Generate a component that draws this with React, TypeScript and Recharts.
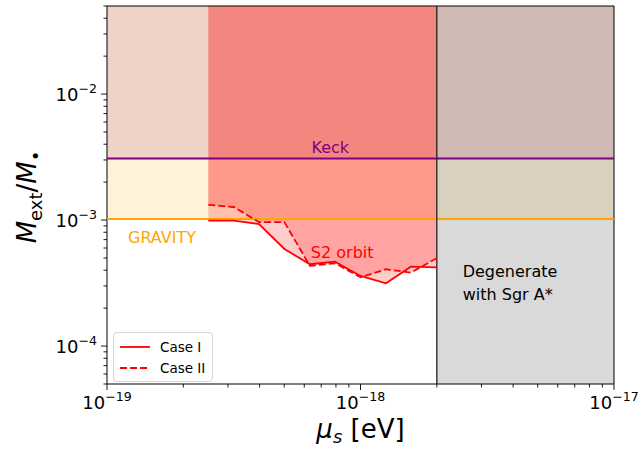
import React from 'react';
import {
  ComposedChart,
  Area,
  Line,
  XAxis,
  YAxis,
  ReferenceArea,
  ReferenceLine,
  ReferenceDot,
  Legend,
} from 'recharts';

// scalar mass mu_s [eV] sampled along the S2 orbit constraint
const massEv = [2.51e-19, 3.16e-19, 3.98e-19, 5.01e-19, 6.31e-19, 7.94e-19, 1.0e-18, 1.26e-18, 1.58e-18, 2.0e-18];
const caseI = [0.99e-3, 0.99e-3, 0.93e-3, 0.59e-3, 0.446e-3, 0.468e-3, 0.36e-3, 0.315e-3, 0.427e-3, 0.422e-3];
const caseII = [1.32e-3, 1.27e-3, 0.964e-3, 0.964e-3, 0.433e-3, 0.454e-3, 0.351e-3, 0.407e-3, 0.383e-3, 0.498e-3];

const keckLimit = 3.08e-3;
const gravityLimit = 1.02e-3;
const degenerateFrom = 2e-18;

const xDomain = [1e-19, 1e-17];
const yDomain = [5e-5, 5e-2];

const xTicks = [
  1e-19, 2e-19, 3e-19, 4e-19, 5e-19, 6e-19, 7e-19, 8e-19, 9e-19,
  1e-18, 2e-18, 3e-18, 4e-18, 5e-18, 6e-18, 7e-18, 8e-18, 9e-18, 1e-17,
];
const yTicks = [
  5e-5, 6e-5, 7e-5, 8e-5, 9e-5,
  1e-4, 2e-4, 3e-4, 4e-4, 5e-4, 6e-4, 7e-4, 8e-4, 9e-4,
  1e-3, 2e-3, 3e-3, 4e-3, 5e-3, 6e-3, 7e-3, 8e-3, 9e-3,
  1e-2, 2e-2, 3e-2, 4e-2, 5e-2,
];

const FONT = '"DejaVu Sans", sans-serif';

const data = massEv.map((m, i) => ({
  m,
  caseI: caseI[i],
  caseII: caseII[i],
  bandI: [caseI[i], yDomain[1]],
  bandII: [caseII[i], yDomain[1]],
}));

const decade = (v: number) => {
  const l = Math.log10(v);
  return Math.abs(l - Math.round(l)) < 1e-6 ? Math.round(l) : null;
};

const XTick = (props: any) => {
  const { x, y, payload } = props;
  const e = decade(payload.value);
  return (
    <g>
      <line x1={x} x2={x} y1={y} y2={y + (e !== null ? 6 : 3.5)} stroke="#000" strokeWidth={0.9} />
      {e !== null && (
        <text x={x} y={y + 25} textAnchor="middle" fontSize={18} fontFamily={FONT} fill="#000">
          10<tspan dy={-8} fontSize={12.6}>{'\u2212' + Math.abs(e)}</tspan>
        </text>
      )}
    </g>
  );
};

const YTick = (props: any) => {
  const { x, y, payload } = props;
  const e = decade(payload.value);
  return (
    <g>
      <line x1={x} x2={x - (e !== null ? 6 : 3.5)} y1={y} y2={y} stroke="#000" strokeWidth={0.9} />
      {e !== null && (
        <text x={x - 10} y={y + 7} textAnchor="end" fontSize={18} fontFamily={FONT} fill="#000">
          10<tspan dy={-8} fontSize={12.6}>{'\u2212' + Math.abs(e)}</tspan>
        </text>
      )}
    </g>
  );
};

const textAt = (lines: string[], color: string, anchor = 'start') => (p: any) => (
  <text x={p.cx} y={p.cy} fill={color} fontSize={16} fontFamily={FONT} textAnchor={anchor}>
    {lines.map((t, i) => (
      <tspan key={i} x={p.cx} dy={i === 0 ? 0 : 23}>{t}</tspan>
    ))}
  </text>
);

const LegendBox = (props: any) => {
  const items = (props.payload || []).filter((e: any) => e.type !== 'none');
  return (
    <div
      style={{
        background: 'rgba(255,255,255,0.85)',
        border: '1px solid #d5d5d5',
        borderRadius: 4,
        padding: '3px 6px',
        fontFamily: FONT,
        fontSize: 13.5,
        width: 100,
        boxSizing: 'border-box',
        whiteSpace: 'nowrap',
      }}
    >
      {items.map((entry: any) => (
        <div key={entry.value} style={{ display: 'flex', alignItems: 'center', height: 21 }}>
          <svg width={30} height={10} style={{ marginRight: 10, flexShrink: 0 }}>
            <line
              x1={0}
              x2={30}
              y1={5}
              y2={5}
              stroke={entry.color}
              strokeWidth={1.8}
              strokeDasharray={entry.payload?.strokeDasharray}
            />
          </svg>
          <span style={{ color: '#000' }}>{entry.value}</span>
        </div>
      ))}
    </div>
  );
};

export default function App() {
  return (
    <div style={{ position: 'absolute', left: 0, top: 0, background: '#fff' }}>
      <ComposedChart
        width={643}
        height={449}
        data={data}
        margin={{ top: 6, right: 29, bottom: 0, left: 0 }}
      >
        <XAxis
          dataKey="m"
          type="number"
          scale="log"
          domain={xDomain}
          ticks={xTicks}
          interval={0}
          allowDataOverflow
          tickSize={0}
          tickMargin={0}
          tickLine={false}
          axisLine={false}
          tick={<XTick />}
          height={65}
          label={{
            content: () => (
              <text x={360.5} y={438} textAnchor="middle" fontSize={26} fontFamily={FONT} fill="#000">
                <tspan fontStyle="italic">μ</tspan>
                <tspan fontStyle="italic" fontSize={18} dy={5}>s</tspan>
                <tspan dy={-5}> [eV]</tspan>
              </text>
            ),
          }}
        />
        <YAxis
          type="number"
          scale="log"
          domain={yDomain}
          ticks={yTicks}
          interval={0}
          allowDataOverflow
          tickSize={0}
          tickMargin={0}
          tickLine={false}
          axisLine={false}
          tick={<YTick />}
          width={107}
          label={{
            content: () => (
              <text
                transform="translate(36,197) rotate(-90)"
                textAnchor="middle"
                fontSize={26}
                fontFamily={FONT}
                fill="#000"
              >
                <tspan fontStyle="italic">M</tspan>
                <tspan fontSize={18} dy={6}>ext</tspan>
                <tspan dy={-6}>/</tspan>
                <tspan fontStyle="italic">M</tspan>
                <tspan fontSize={18} dy={6}>•</tspan>
              </text>
            ),
          }}
        />

        {/* excluded regions */}
        <ReferenceArea x1={xDomain[0]} x2={xDomain[1]} y1={gravityLimit} y2={yDomain[1]} fill="#ffa500" fillOpacity={0.15} stroke="none" />
        <ReferenceArea x1={xDomain[0]} x2={xDomain[1]} y1={keckLimit} y2={yDomain[1]} fill="#b05a88" fillOpacity={0.2} stroke="none" />
        <Area dataKey="bandI" type="linear" fill="#ff0000" fillOpacity={0.2} stroke="none" legendType="none" isAnimationActive={false} />
        <Area dataKey="bandII" type="linear" fill="#ff0000" fillOpacity={0.2} stroke="none" legendType="none" isAnimationActive={false} />
        <ReferenceArea x1={degenerateFrom} x2={xDomain[1]} y1={yDomain[0]} y2={yDomain[1]} fill="#808080" fillOpacity={0.3} stroke="none" />

        <ReferenceLine y={keckLimit} stroke="#800080" strokeWidth={2} />
        <ReferenceLine y={gravityLimit} stroke="#ffa500" strokeWidth={2} />
        <ReferenceLine x={degenerateFrom} stroke="#222" strokeWidth={1.3} />

        <Line dataKey="caseI" name="Case I" type="linear" stroke="#ff0000" strokeWidth={1.8} dot={false} isAnimationActive={false} />
        <Line dataKey="caseII" name="Case II" type="linear" stroke="#ff0000" strokeWidth={1.8} strokeDasharray="7 3" dot={false} isAnimationActive={false} />

        <ReferenceDot x={7.6e-19} y={3.4e-3} r={0} shape={textAt(['Keck'], '#800080', 'middle')} />
        <ReferenceDot x={1.21e-19} y={6.6e-4} r={0} shape={textAt(['GRAVITY'], '#ffa500')} />
        <ReferenceDot x={6.37e-19} y={4.97e-4} r={0} shape={textAt(['S2 orbit'], '#ff0000')} />
        <ReferenceDot x={2.53e-18} y={3.51e-4} r={0} shape={textAt(['Degenerate', 'with Sgr A*'], '#000')} />

        {/* axes frame */}
        <ReferenceArea x1={xDomain[0]} x2={xDomain[1]} y1={yDomain[0]} y2={yDomain[1]} fill="none" stroke="#000" strokeWidth={1} />

        <Legend
          layout="vertical"
          align="center"
          verticalAlign="middle"
          content={<LegendBox />}
          wrapperStyle={{ position: 'absolute', left: 113, top: 332, width: 100 }}
        />
      </ComposedChart>
    </div>
  );
}
